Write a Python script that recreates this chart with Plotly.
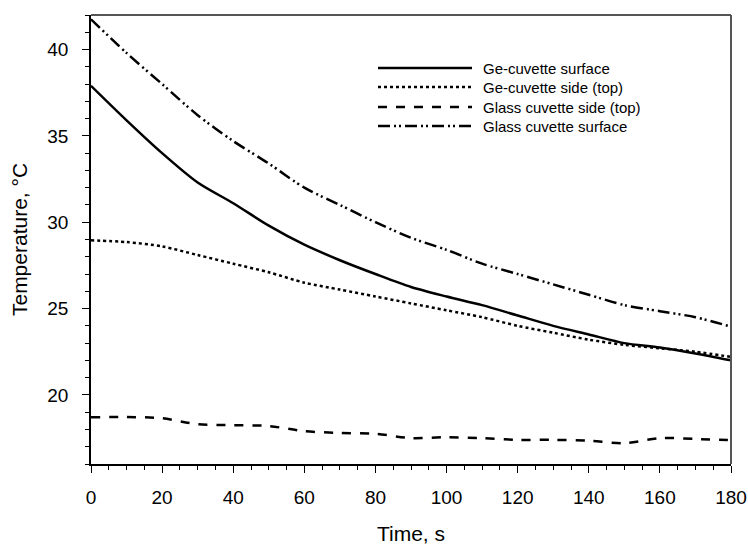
import plotly.graph_objects as go

# ---- data ----
time_s = [0, 10, 20, 30, 40, 50, 60, 70, 80, 90, 100, 110, 120, 130, 140, 150, 160, 170, 180]
ge_surface = [37.9, 35.9, 34.0, 32.3, 31.1, 29.8, 28.7, 27.8, 27.0, 26.25, 25.7, 25.2, 24.6, 24.0, 23.5, 23.0, 22.75, 22.4, 22.0]
ge_side = [28.95, 28.85, 28.6, 28.1, 27.6, 27.1, 26.5, 26.1, 25.7, 25.3, 24.9, 24.5, 24.0, 23.6, 23.2, 22.9, 22.7, 22.5, 22.2]
glass_side = [18.7, 18.72, 18.65, 18.3, 18.25, 18.2, 17.9, 17.8, 17.75, 17.5, 17.55, 17.5, 17.4, 17.4, 17.35, 17.2, 17.5, 17.45, 17.38]
glass_surface = [41.75, 39.8, 38.0, 36.2, 34.7, 33.4, 32.0, 31.0, 30.0, 29.1, 28.4, 27.6, 27.0, 26.4, 25.8, 25.2, 24.85, 24.5, 23.95]

names = ["Ge-cuvette surface", "Ge-cuvette side (top)", "Glass cuvette side (top)", "Glass cuvette surface"]
series = [ge_surface, ge_side, glass_side, glass_surface]
dashes = ["solid", "dot", "dash", "12px,4px,2px,3px,2px,4px"]

fig = go.Figure()
for name, ys, d in zip(names, series, dashes):
    fig.add_trace(go.Scatter(
        x=time_s, y=ys, name=name, mode="lines",
        line=dict(color="black", width=2.5, dash=d, shape="spline", smoothing=0.8),
        showlegend=False,
    ))

# manual legend (long line samples as in the reference)
L, R, T, B = 91, 731, 15, 464
def px_x(p): return (p - L) / (R - L)
def px_y(p): return (B - p) / (B - T)

row_y = [68, 87, 107, 126]
for name, d, ry in zip(names, dashes, row_y):
    fig.add_shape(type="line", xref="paper", yref="paper",
                  x0=px_x(378), x1=px_x(472), y0=px_y(ry), y1=px_y(ry),
                  line=dict(color="black", width=2.5, dash=d))
    fig.add_annotation(x=px_x(481), y=px_y(ry), xref="paper", yref="paper",
                       text=name, showarrow=False, xanchor="left", yanchor="middle",
                       font=dict(size=15, color="black", family="Liberation Sans, Arial"))

# grey top and right frame
fig.add_shape(type="line", xref="paper", yref="paper", x0=0, x1=1, y0=1, y1=1,
              line=dict(color="#555555", width=2))
fig.add_shape(type="line", xref="paper", yref="paper", x0=1, x1=1, y0=0, y1=1,
              line=dict(color="#555555", width=2))

font = dict(family="Liberation Sans, Arial", color="black")
fig.update_layout(
    width=748, height=547,
    margin=dict(l=91, r=17, t=15, b=83),
    paper_bgcolor="white", plot_bgcolor="white",
    font=font,
    xaxis=dict(
        range=[0, 180], tickmode="linear", tick0=0, dtick=20, automargin=False,
        ticks="outside", ticklen=7, tickwidth=1.3, tickcolor="black",
        minor=dict(dtick=5, ticks="outside", ticklen=4, tickwidth=1, tickcolor="black", showgrid=False),
        showline=True, linecolor="black", linewidth=1.5, showgrid=False, zeroline=False,
        tickfont=dict(size=19, **font), ticklabelstandoff=8,
        title=dict(text="Time, s", font=dict(size=21, **font), standoff=20),
    ),
    yaxis=dict(
        range=[16, 42], tickmode="linear", tick0=20, dtick=5, automargin=False,
        ticks="outside", ticklen=7, tickwidth=1.3, tickcolor="black",
        minor=dict(dtick=1, ticks="outside", ticklen=4, tickwidth=1, tickcolor="black", showgrid=False),
        showline=True, linecolor="black", linewidth=1.5, showgrid=False, zeroline=False,
        tickfont=dict(size=19, **font), ticklabelstandoff=10,
        title=dict(text="Temperature, °C", font=dict(size=21, **font), standoff=14),
    ),
)

fig.write_html("out.html")
